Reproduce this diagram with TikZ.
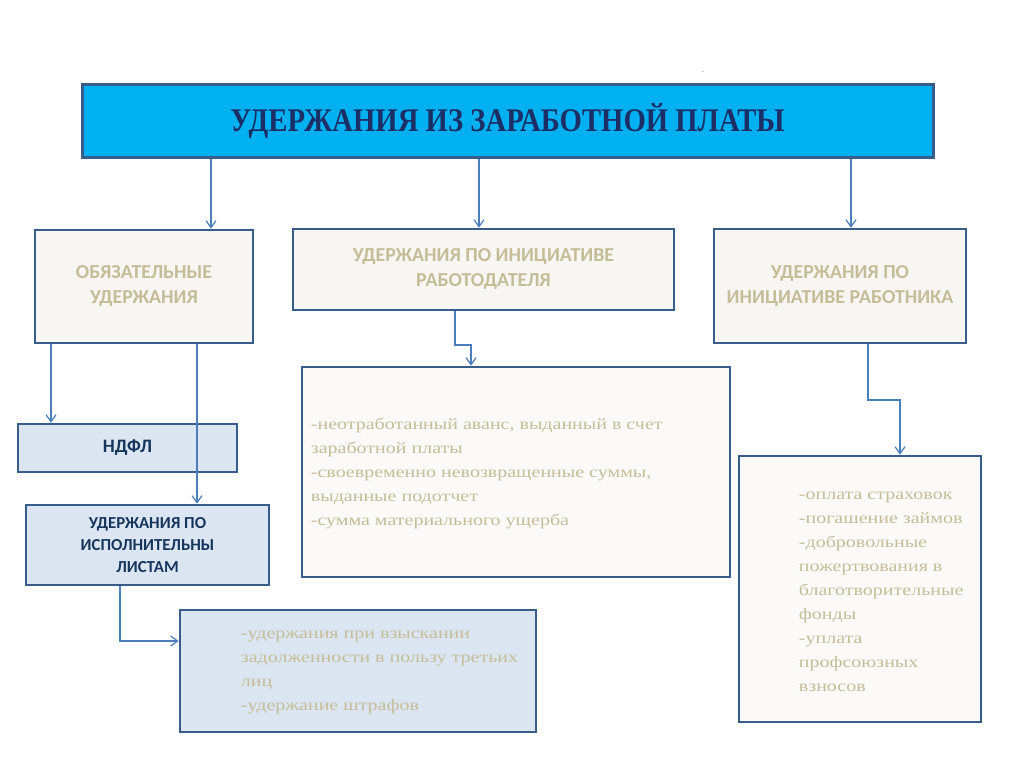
\documentclass[tikz,border=0pt]{standalone}
\usepackage{fontspec}
\setmainfont{Liberation Serif}
\newfontfamily\carl{Carlito}
\newfontfamily\bodyfont[FakeStretch=1.25]{Liberation Serif}
\newfontfamily\titlefont[FakeStretch=0.87]{Liberation Serif}
\usetikzlibrary{arrows.meta,calc}
\definecolor{boxline}{HTML}{385D8A}
\definecolor{arrc}{HTML}{4A7EBB}
\definecolor{tan}{HTML}{C4BD97}
\definecolor{fillA}{HTML}{F7F6F3}
\definecolor{fillB}{HTML}{FBFAF9}
\definecolor{lblue}{HTML}{DCE6F2}
\definecolor{cyanT}{HTML}{00B0F0}
\definecolor{navy}{HTML}{1C2E66}
\definecolor{navyB}{HTML}{17365D}
\begin{document}
\begin{tikzpicture}[x=1pt,y=-1pt,
  box/.style={draw=boxline, line width=2.6pt, inner sep=0pt},
  hdr/.style={font=\carl\bfseries\fontsize{19.8}{25}\selectfont, text=tan, align=center},
  hdrB/.style={font=\carl\bfseries\fontsize{16.8}{22}\selectfont, text=navyB, align=center},
  body/.style={font=\bodyfont\fontsize{16}{24}\selectfont, text=tan, align=left, anchor=west, inner sep=0pt},
  arr/.style={draw=arrc, line width=1.2pt, -{Straight Barb[length=7pt,width=10pt]}}]
\useasboundingbox[fill=white] (0,0) rectangle (1024,767);

% title
\node[box, line width=3pt, fill=cyanT, minimum width=851pt, minimum height=73pt,
  font=\titlefont\bfseries\fontsize{33}{33}\selectfont, text=navy] (t) at (507.5,121)
  {УДЕРЖАНИЯ ИЗ ЗАРАБОТНОЙ ПЛАТЫ};
\node[font=\fontsize{8}{8}\selectfont, text=black!70, inner sep=0pt] (dot) at (703,72) {.};

% second level
\node[box, fill=fillA, minimum width=218pt, minimum height=113pt, hdr] (ob) at (144,286.5)
  {ОБЯЗАТЕЛЬНЫЕ\\УДЕРЖАНИЯ};
\node[box, fill=fillA, minimum width=381pt, minimum height=81pt, hdr] (emp) at (483.5,269.5)
  {УДЕРЖАНИЯ ПО ИНИЦИАТИВЕ\\РАБОТОДАТЕЛЯ};
\node[box, fill=fillA, minimum width=252pt, minimum height=114pt, hdr] (wrk) at (840,286)
  {УДЕРЖАНИЯ ПО\\ИНИЦИАТИВЕ РАБОТНИКА};

% left column
\node[box, fill=lblue, minimum width=219pt, minimum height=48pt, hdrB, font=\carl\bfseries\fontsize{19}{22}\selectfont] (ndfl) at (127.5,448) {НДФЛ};
\node[box, fill=lblue, minimum width=243pt, minimum height=80pt, hdrB] (isp) at (147.5,545)
  {УДЕРЖАНИЯ ПО\\ИСПОЛНИТЕЛЬНЫ\\ЛИСТАМ};

% content boxes
\node[box, fill=fillB, minimum width=428pt, minimum height=210pt] (mid) at (516,472) {};
\node[body] (midtxt) at ($(mid.west)+(10,1.5)$)
  {-неотработанный аванс, выданный в счет\\заработной платы\\-своевременно невозвращенные суммы,\\выданные подотчет\\-сумма материального ущерба};

\node[box, fill=fillB, minimum width=242pt, minimum height=266pt] (rgt) at (860,589) {};
\node[body] (rgttxt) at ($(rgt.west)+(61,3)$)
  {-оплата страховок\\-погашение займов\\-добровольные\\пожертвования в\\благотворительные\\фонды\\-уплата\\профсоюзных\\взносов};

\node[box, fill=lblue, minimum width=356pt, minimum height=122pt] (bot) at (358,671) {};
\node[body] (bottxt) at ($(bot.west)+(62,1)$)
  {-удержания при взыскании\\задолженности в пользу третьих\\лиц\\-удержание штрафов};

% connector helper coordinates
\coordinate (c211) at (211,0);
\coordinate (c479) at (479,0);
\coordinate (c851) at (851,0);
\coordinate (c51) at (51,0);
\coordinate (c197) at (197,0);
\coordinate (k1) at (120,641);
\coordinate (e1) at (455,345);
\coordinate (e2) at (471,345);
\coordinate (w1) at (868,400);
\coordinate (w2) at (900,400);

% connectors
\draw[arr] (t.south -| c211) -- (ob.north -| c211);
\draw[arr] (t.south -| c479) -- (emp.north -| c479);
\draw[arr] (t.south -| c851) -- (wrk.north -| c851);
\draw[arr] (ob.south -| c51) -- (ndfl.north -| c51);
\draw[arr] (ob.south -| c197) -- (isp.north -| c197);
\draw[arr] (isp.south -| k1) -- (k1) -- (bot.west |- k1);
\draw[arr] (emp.south -| e1) -- (e1) -- (e2) -- (mid.north -| e2);
\draw[arr] (wrk.south -| w1) -- (w1) -- (w2) -- (rgt.north -| w2);
\end{tikzpicture}
\end{document}
